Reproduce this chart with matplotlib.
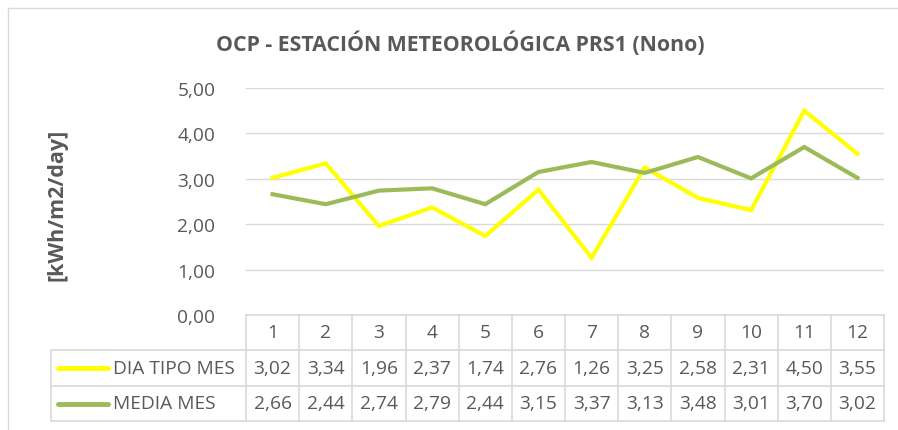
import numpy as np
import matplotlib
matplotlib.use('Agg')
import matplotlib.pyplot as plt
from matplotlib.lines import Line2D

months = ['1', '2', '3', '4', '5', '6', '7', '8', '9', '10', '11', '12']
dia_tipo = [3.02, 3.34, 1.96, 2.37, 1.74, 2.76, 1.26, 3.25, 2.58, 2.31, 4.50, 3.55]
media = [2.66, 2.44, 2.74, 2.79, 2.44, 3.15, 3.37, 3.13, 3.48, 3.01, 3.70, 3.02]
series_names = ['DIA TIPO MES', 'MEDIA MES']
yticks = [0, 1, 2, 3, 4, 5]

W, H = 898, 431
grey = '#595959'
gridc = '#D9D9D9'
colors = ['#FFFF00', '#9BBB59']
plt.rcParams['font.family'] = ['Open Sans', 'DejaVu Sans']

fig = plt.figure(figsize=(W / 100, H / 100), dpi=100)

def fx(px):
    return px / W

def fy(py):
    return 1 - py / H

# plot area in pixels
x0, x1 = 246, 884
ytop, ybot = 89, 316
ax = fig.add_axes([fx(x0), fy(ybot), fx(x1 - x0), (ybot - ytop) / H])
xpos = np.arange(len(months)) + 0.5
ax.plot(xpos, dia_tipo, color=colors[0], lw=3, solid_joinstyle='miter')
ax.plot(xpos, media, color=colors[1], lw=3, solid_joinstyle='miter')
ax.set_xlim(0, len(months))
ax.set_ylim(0, 5)
ax.set_yticks(yticks)
ax.set_yticklabels([f'{v:.2f}'.replace('.', ',') for v in yticks])
ax.set_xticks([])
ax.tick_params(axis='y', length=0, pad=22, labelsize=13.8, labelcolor=grey)
ax.grid(axis='y', color=gridc, lw=1)
ax.set_axisbelow(True)
for s in ax.spines.values():
    s.set_visible(False)

fig.text(fx(460), fy(44), 'OCP - ESTACIÓN METEOROLÓGICA PRS1 (Nono)', ha='center', va='center',
         fontsize=15.3, fontweight='bold', color=grey)
fig.text(fx(57), fy(205), '[kWh/m2/day]', ha='center', va='center', rotation=90,
         fontsize=15.5, fontweight='bold', color=grey)

# chart border
fig.add_artist(Line2D([fx(8), fx(8)], [fy(9), fy(H + 5)], color=gridc, lw=1))
fig.add_artist(Line2D([fx(8), fx(W + 5)], [fy(9), fy(9)], color=gridc, lw=1))

# data table
cw = (x1 - x0) / len(months)
rows = [316, 351, 387, 422]
xl = 51

def hline(xa, xb, y):
    fig.add_artist(Line2D([fx(xa), fx(xb)], [fy(y), fy(y)], color=gridc, lw=1.2))

def vline(x, ya, yb):
    fig.add_artist(Line2D([fx(x), fx(x)], [fy(ya), fy(yb)], color=gridc, lw=1.2))

hline(x0, x1, rows[0])
for y in rows[1:]:
    hline(xl, x1, y)
vline(xl, rows[1], rows[3])
for k in range(len(months) + 1):
    vline(x0 + k * cw, rows[0], rows[3])

fs = 13.8
for i, m in enumerate(months):
    cx = x0 + (i + 0.5) * cw
    fig.text(fx(cx), fy((rows[0] + rows[1]) / 2), m, ha='center', va='center', fontsize=fs, color=grey)
for r, vals in enumerate([dia_tipo, media]):
    cy = (rows[r + 1] + rows[r + 2]) / 2
    fig.add_artist(Line2D([fx(58), fx(108)], [fy(cy), fy(cy)], color=colors[r], lw=3.5,
                          solid_capstyle='round'))
    fig.text(fx(113), fy(cy), series_names[r], ha='left', va='center', fontsize=fs, color=grey)
    for i, v in enumerate(vals):
        cx = x0 + (i + 0.5) * cw
        fig.text(fx(cx), fy(cy), f'{v:.2f}'.replace('.', ','), ha='center', va='center',
                 fontsize=fs, color=grey)

fig.savefig('out.png', dpi=100)
